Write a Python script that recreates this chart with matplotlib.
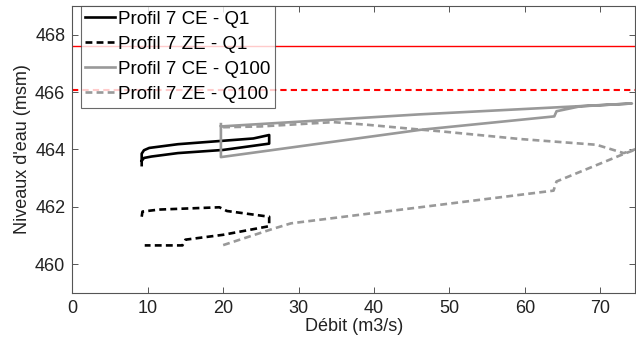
import matplotlib
matplotlib.use("Agg")
import matplotlib.pyplot as plt

plt.rcParams['font.family'] = ['Liberation Sans', 'DejaVu Sans']

# Profil 7 CE - Q1 (debit, niveau)
ce_q1_x = [9.2, 9.2, 9.5, 10.2, 14, 20, 24, 26.1, 26.1, 20, 14, 10.5, 9.5, 9.2]
ce_q1_y = [463.45, 463.85, 463.97, 464.05, 464.18, 464.3, 464.38, 464.5,
           464.2, 463.98, 463.87, 463.75, 463.7, 463.6]

# Profil 7 ZE - Q1
ze_q1_x = [9.2, 9.3, 11.5, 19.5, 20.5, 26.1, 26.1, 20, 15, 14.6, 9.6]
ze_q1_y = [461.65, 461.83, 461.9, 461.98, 461.85, 461.65, 461.32, 461.02,
           460.85, 460.65, 460.65]

# Profil 7 CE - Q100
ce_q100_x = [19.7, 19.7, 46, 74.2, 67.3, 64.2, 63.9, 46.1, 19.7, 19.7]
ce_q100_y = [464.88, 464.8, 465.22, 465.6, 465.5, 465.33, 465.15, 464.68,
             463.73, 464.8]

# Profil 7 ZE - Q100
ze_q100_x = [20, 26.5, 29, 63.8, 64.2, 73.2, 76, 73.1, 69.5, 59.4, 48.8,
             46.1, 39, 34.6, 25, 19.7]
ze_q100_y = [460.66, 461.22, 461.42, 462.56, 462.88, 463.85, 464.12, 463.87,
             464.16, 464.36, 464.63, 464.69, 464.86, 464.95, 464.8, 464.77]

# niveaux de reference
niveau_ce = 467.6
niveau_ze = 466.06

gris = (0.6, 0.6, 0.6)

fig = plt.figure(figsize=(6.36, 3.38), dpi=100)
ax = fig.add_axes([0.1137, 0.134, 0.8847, 0.8482])

ax.axhline(niveau_ce, color='red', lw=1.0)
ax.axhline(niveau_ze, color='red', lw=1.5, dashes=(3, 2))

ax.plot(ce_q1_x, ce_q1_y, color='black', lw=1.9, label='Profil 7 CE - Q1')
ax.plot(ze_q1_x, ze_q1_y, color='black', lw=1.9, dashes=(2.6, 1.6),
        label='Profil 7 ZE - Q1')
ax.plot(ce_q100_x, ce_q100_y, color=gris, lw=1.9, label='Profil 7 CE - Q100')
ax.plot(ze_q100_x, ze_q100_y, color=gris, lw=1.9, dashes=(2.6, 1.6),
        label='Profil 7 ZE - Q100')

ax.set_xlim(0, 74.6)
ax.set_ylim(459, 469)
ax.set_xticks(range(0, 71, 10))
ax.set_yticks(range(460, 469, 2))

for s in ax.spines.values():
    s.set_color('#555555')
    s.set_linewidth(0.8)
ax.tick_params(direction='in', length=4, width=0.7, colors='#555555',
               labelcolor='#222222', labelsize=13, top=True, right=True, pad=5)

ax.set_xlabel('Débit (m3/s)', fontsize=13, color='#222222', labelpad=1)
ax.set_ylabel("Niveaux d'eau (msm)", fontsize=13, color='#222222', labelpad=3)

leg = ax.legend(loc='upper left', bbox_to_anchor=(0.015, 1.0), borderaxespad=0,
                fontsize=13.5, frameon=True, fancybox=False, handlelength=1.6,
                handletextpad=0.15, labelspacing=0.42, borderpad=0.25)
leg.get_frame().set_edgecolor('#444444')
leg.get_frame().set_linewidth(0.8)

fig.savefig('out.png', dpi=100)
